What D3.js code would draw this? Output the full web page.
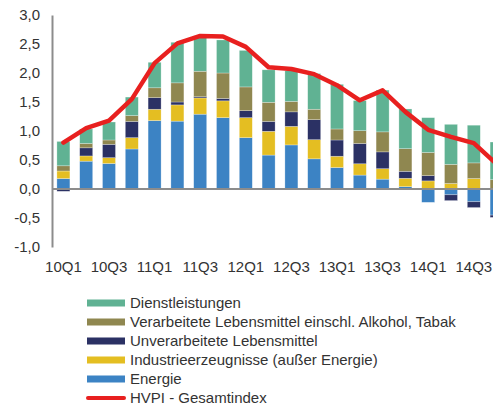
<!DOCTYPE html>
<html>
<head>
<meta charset="utf-8">
<script src="https://cdn.jsdelivr.net/npm/d3@7"></script>
<style>
  html, body { margin: 0; padding: 0; background: #fff; }
  svg { display: block; font-family: "Liberation Sans", Arial, sans-serif; }
</style>
</head>
<body>
<svg id="chart" width="493" height="407"></svg>
<script>
const categories = ["10Q1","10Q2","10Q3","10Q4","11Q1","11Q2","11Q3","11Q4","12Q1","12Q2","12Q3","12Q4","13Q1","13Q2","13Q3","13Q4","14Q1","14Q2","14Q3","14Q4"];
const tickLabels = ["10Q1","10Q3","11Q1","11Q3","12Q1","12Q3","13Q1","13Q3","14Q1","14Q3"];
const yTicks = [-1, -0.5, 0, 0.5, 1, 1.5, 2, 2.5, 3];

const energie       = [0.18, 0.48, 0.44, 0.69, 1.18, 1.17, 1.29, 1.23, 0.885, 0.585, 0.76, 0.52, 0.37, 0.24, 0.17, 0.04, -0.23, -0.10, -0.22, -0.45];
const industrie     = [0.13, 0.09, 0.10, 0.195, 0.195, 0.28, 0.28, 0.29, 0.345, 0.41, 0.32, 0.33, 0.195, 0.195, 0.18, 0.145, 0.14, 0.095, 0.18, 0.0];
const unverarbeitet = [-0.04, 0.14, 0.23, 0.28, 0.20, 0.05, 0.02, 0.04, 0.12, 0.17, 0.25, 0.345, 0.28, 0.35, 0.29, 0.12, 0.09, -0.10, -0.10, -0.04];
const verarbeitet   = [0.09, 0.075, 0.075, 0.10, 0.17, 0.33, 0.44, 0.44, 0.41, 0.33, 0.18, 0.18, 0.19, 0.22, 0.345, 0.39, 0.40, 0.33, 0.27, 0.16];
const dienst        = [0.42, 0.25, 0.31, 0.32, 0.44, 0.70, 0.61, 0.57, 0.63, 0.56, 0.53, 0.615, 0.77, 0.52, 0.72, 0.685, 0.60, 0.69, 0.65, 0.65];
const hvpi          = [0.80, 1.05, 1.18, 1.55, 2.17, 2.51, 2.64, 2.63, 2.45, 2.10, 2.07, 1.98, 1.79, 1.53, 1.70, 1.33, 1.02, 0.90, 0.79, 0.43];

const seriesKeys  = ["energie","industrie","unverarbeitet","verarbeitet","dienst"];
const seriesNames = {
  dienst: "Dienstleistungen",
  verarbeitet: "Verarbeitete Lebensmittel einschl. Alkohol, Tabak",
  unverarbeitet: "Unverarbeitete Lebensmittel",
  industrie: "Industrieerzeugnisse (außer Energie)",
  energie: "Energie"
};
const colors = {
  dienst: "#60b293",
  verarbeitet: "#8f8750",
  unverarbeitet: "#2b3164",
  industrie: "#e4be22",
  energie: "#3c83c4"
};
const lineColor = "#e8201f";
const lineName = "HVPI - Gesamtindex";

const valuesByKey = { energie, industrie, unverarbeitet, verarbeitet, dienst };
const table = categories.map((c, i) => {
  const row = { cat: c };
  seriesKeys.forEach(k => row[k] = valuesByKey[k][i]);
  return row;
});

const svg = d3.select("#chart");
const x = d3.scaleBand().domain(categories).range([52, 508]).paddingInner(0.43).paddingOuter(0.215);
const y = d3.scaleLinear().domain([-1, 3]).range([247, 15]);

const locale = d3.formatLocale({decimal: ",", thousands: ".", grouping: [3], currency: ["", "€"], minus: "-"});
const fmt = locale.format(".1f");
const FS = 15;

// bars
const stack = d3.stack().keys(seriesKeys).offset(d3.stackOffsetDiverging);
const stacked = stack(table);
svg.append("g").selectAll("g").data(stacked).join("g")
  .attr("fill", d => colors[d.key])
  .selectAll("rect").data(d => d).join("rect")
  .attr("x", d => x(d.data.cat))
  .attr("width", x.bandwidth())
  .attr("y", d => y(Math.max(d[0], d[1])))
  .attr("height", d => Math.abs(y(d[0]) - y(d[1])))
  .attr("stroke", "rgba(255,255,255,0.45)")
  .attr("stroke-width", 0.6);

// zero line
svg.append("line")
  .attr("x1", 52).attr("x2", 493)
  .attr("y1", y(0)).attr("y2", y(0))
  .attr("stroke", "#8c8c8c").attr("stroke-width", 2);

// y axis
const yAxis = svg.append("g").attr("transform", "translate(52,0)")
  .call(d3.axisLeft(y).tickValues(yTicks).tickFormat(fmt).tickSize(0).tickSizeOuter(0).tickPadding(12));
yAxis.select(".domain").attr("stroke", "#8c8c8c").attr("stroke-width", 2);
yAxis.selectAll("text").attr("font-size", FS).attr("fill", "#333").attr("font-family", "Liberation Sans, Arial, sans-serif");

// x axis labels
const xAxis = svg.append("g").attr("transform", "translate(0,258)")
  .call(d3.axisBottom(x).tickValues(tickLabels).tickSize(0).tickPadding(3));
xAxis.select(".domain").remove();
xAxis.selectAll("text").attr("font-size", FS).attr("fill", "#333").attr("font-family", "Liberation Sans, Arial, sans-serif");

// line
const line = d3.line()
  .x((d, i) => x(categories[i]) + x.bandwidth() / 2)
  .y(d => y(d));
svg.append("path")
  .datum(hvpi)
  .attr("d", line)
  .attr("fill", "none")
  .attr("stroke", lineColor)
  .attr("stroke-width", 4.5)
  .attr("stroke-linejoin", "round")
  .attr("stroke-linecap", "round");

// legend
const legendKeys = ["dienst","verarbeitet","unverarbeitet","industrie","energie"];
const lg = svg.append("g");
const rowY = d => 303 + d * 19;
legendKeys.forEach((k, i) => {
  lg.append("rect").attr("x", 87).attr("y", rowY(i) - 3.5).attr("width", 38).attr("height", 7).attr("fill", colors[k]);
  lg.append("text").attr("x", 130).attr("y", rowY(i)).attr("dy", "0.35em")
    .attr("font-size", FS).attr("fill", "#333").text(seriesNames[k]);
});
const li = legendKeys.length;
lg.append("line").attr("x1", 88).attr("x2", 124).attr("y1", rowY(li)).attr("y2", rowY(li))
  .attr("stroke", lineColor).attr("stroke-width", 4).attr("stroke-linecap", "round");
lg.append("text").attr("x", 130).attr("y", rowY(li)).attr("dy", "0.35em")
  .attr("font-size", FS).attr("fill", "#333").text(lineName);
</script>
</body>
</html>
